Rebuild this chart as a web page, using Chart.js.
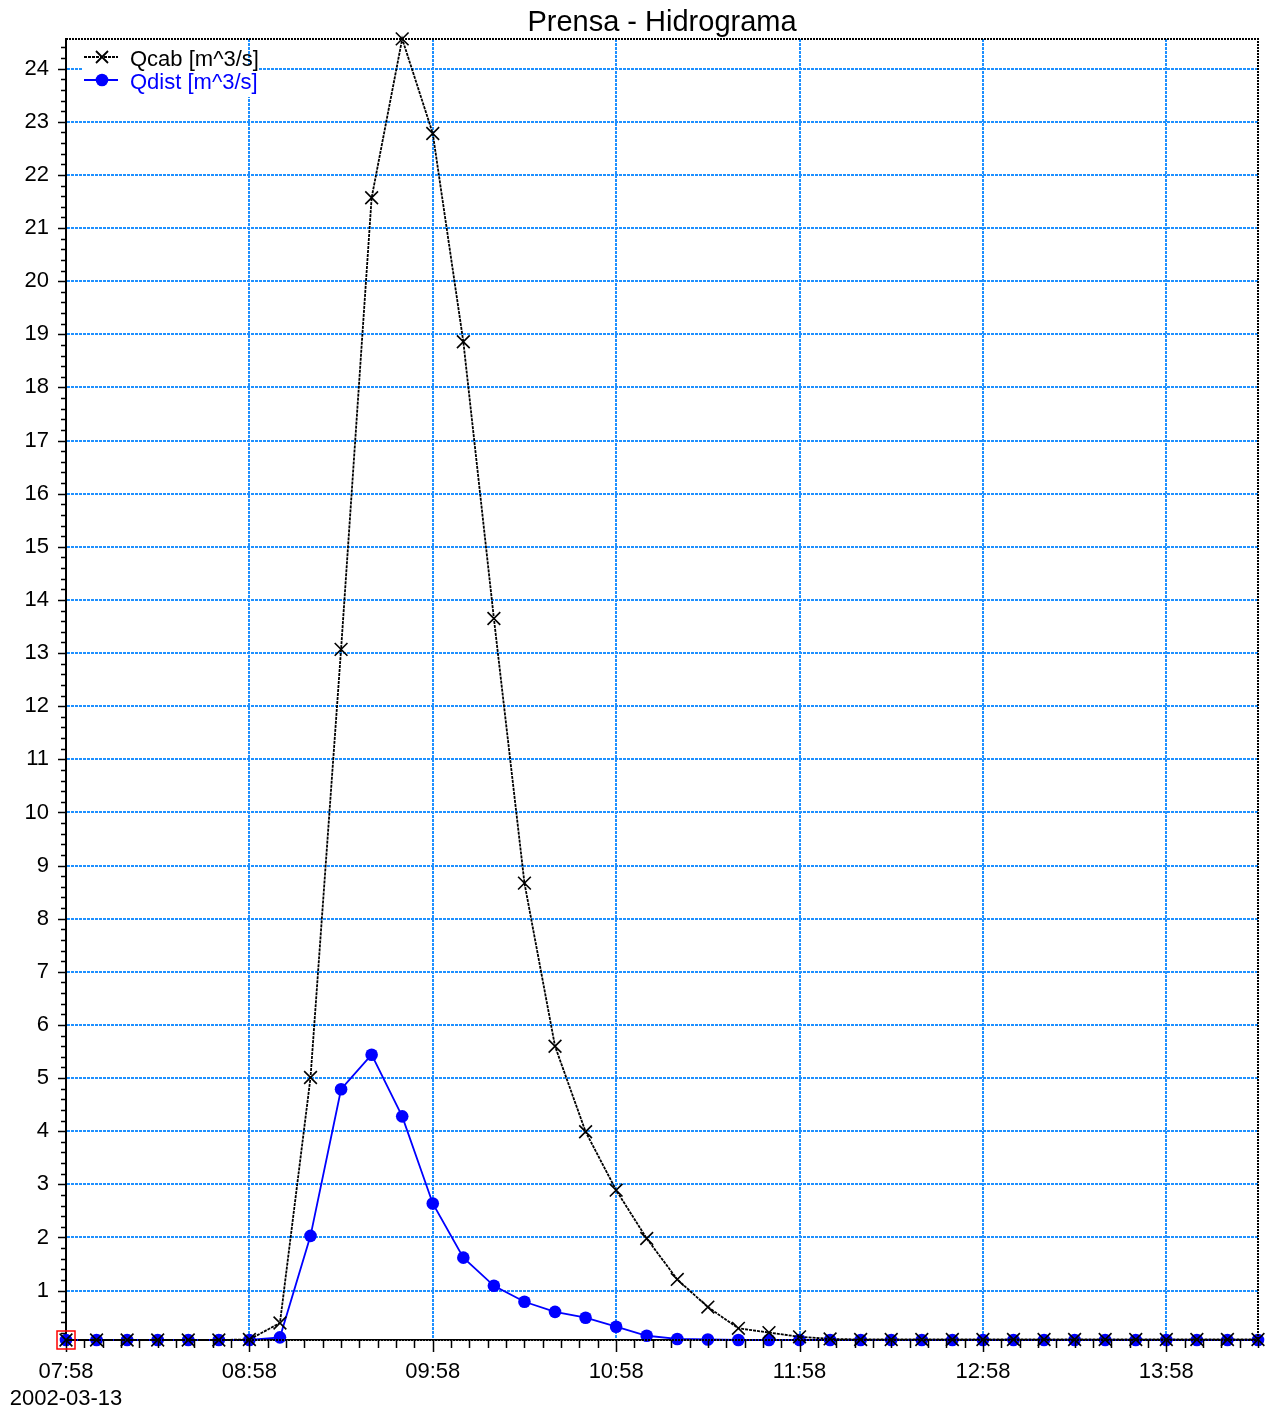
<!DOCTYPE html>
<html>
<head>
<meta charset="utf-8">
<script src="https://cdn.jsdelivr.net/npm/chart.js@4.4.1/dist/chart.umd.min.js"></script>
<style>
  html, body { margin: 0; padding: 0; background: #fff; }
  #wrap { width: 1271px; height: 1411px; }
</style>
</head>
<body>
<div id="wrap"><canvas id="myChart-hidro" width="1271" height="1411"></canvas></div>
<script>
// datos del hidrograma (cada 10 min)
const times = ["07:58","08:08","08:18","08:28","08:38","08:48","08:58","09:08","09:18","09:28",
               "09:38","09:48","09:58","10:08","10:18","10:28","10:38","10:48","10:58","11:08",
               "11:18","11:28","11:38","11:48","11:58","12:08","12:18","12:28","12:38","12:48",
               "12:58","13:08","13:18","13:28","13:38","13:48","13:58","14:08","14:18","14:28"];
const qcab = [0.07,0.07,0.07,0.07,0.07,0.07,0.08,0.39,5.01,13.07,
              21.57,24.56,22.78,18.86,13.65,8.67,5.60,3.99,2.89,1.98,
              1.21,0.69,0.29,0.21,0.13,0.09,0.08,0.08,0.08,0.08,
              0.08,0.08,0.08,0.08,0.08,0.08,0.08,0.08,0.08,0.08];
const qdist = [0.07,0.07,0.07,0.07,0.07,0.07,0.07,0.12,2.03,4.79,
               5.44,4.28,2.64,1.62,1.09,0.79,0.60,0.49,0.32,0.15,
               0.09,0.08,0.07,0.07,0.07,0.07,0.07,0.07,0.07,0.07,
               0.07,0.07,0.07,0.07,0.07,0.07,0.07,0.07,0.07,0.07];
const xTickLabels = ["07:58","08:58","09:58","10:58","11:58","12:58","13:58"];
const dateLabel = "2002-03-13";
const seriesNames = ["Qcab [m^3/s]", "Qdist [m^3/s]"];

const FONT = "'Liberation Sans', Arial, sans-serif";
const GRID_BLUE = "#1e90ff";

function toMin(t){
    const p = t.split(":");
    return (+p[0]) * 60 + (+p[1]);
}
const t0 = toMin(times[0]);
const xMax = toMin(times[times.length - 1]) - t0;

function pts(arr){
    return arr.map((v, i) => ({x: toMin(times[i]) - t0, y: v}));
}

const isInt = v => Math.abs(v - Math.round(v)) < 1e-6;

// marcas de los ejes, leyenda y marco
const extras = {
    id: "extras",
    afterDraw(chart){
        const c = chart.ctx;
        const a = chart.chartArea;
        const xs = chart.scales.x, ys = chart.scales.y;
        c.save();
        c.strokeStyle = "#000";
        c.lineWidth = 1.5;
        c.setLineDash([]);
        c.beginPath();
        xs.ticks.forEach(t => {
            const px = Math.round(xs.getPixelForValue(t.value)) + 0.5;
            const len = t.value % 60 === 0 ? 12 : 8;
            c.moveTo(px, a.bottom);
            c.lineTo(px, a.bottom + len);
        });
        ys.ticks.forEach(t => {
            const py = Math.round(ys.getPixelForValue(t.value)) + 0.5;
            const len = isInt(t.value) ? 8 : 5;
            c.moveTo(a.left, py);
            c.lineTo(a.left - len, py);
        });
        c.stroke();

        // marco superior y derecho punteado
        c.setLineDash([2, 1]);
        c.lineWidth = 2;
        c.beginPath();
        c.moveTo(a.left, a.top);
        c.lineTo(a.right, a.top);
        c.lineTo(a.right, a.bottom);
        c.moveTo(a.left, a.bottom);
        c.lineTo(a.right, a.bottom);
        c.stroke();
        c.setLineDash([]);

        // leyenda
        c.fillStyle = "#fff";
        c.fillRect(83, 65, 175, 32);
        const rows = [
            {name: seriesNames[0], color: "#000", y: 57, dash: [3, 1]},
            {name: seriesNames[1], color: "#0000ff", y: 80, dash: []}
        ];
        rows.forEach((r, i) => {
            c.strokeStyle = r.color;
            c.lineWidth = 1.8;
            c.setLineDash(r.dash);
            c.beginPath();
            c.moveTo(84, r.y);
            c.lineTo(118, r.y);
            c.stroke();
            c.setLineDash([]);
            if (i === 0) {
                c.beginPath();
                c.moveTo(96, r.y - 6); c.lineTo(108, r.y + 6);
                c.moveTo(108, r.y - 6); c.lineTo(96, r.y + 6);
                c.stroke();
            } else {
                c.fillStyle = r.color;
                c.beginPath();
                c.arc(102, r.y, 6.3, 0, Math.PI * 2);
                c.fill();
            }
            c.fillStyle = r.color;
            c.font = "22px " + FONT;
            c.textBaseline = "alphabetic";
            c.textAlign = "left";
            c.fillText(r.name, 130, r.y + 9);
        });

        // punto seleccionado
        const sx = xs.getPixelForValue(0), sy = ys.getPixelForValue(qdist[0]);
        c.strokeStyle = "#ff0000";
        c.lineWidth = 1.5;
        c.strokeRect(sx - 9, sy - 9, 18, 18);
        c.restore();
    }
};

function grafico_hidrograma(){
    const ctx = document.getElementById("myChart-hidro");
    new Chart(ctx, {
        type: "line",
        data: {
            datasets: [
                {
                    label: seriesNames[0],
                    data: pts(qcab),
                    borderColor: "#000",
                    backgroundColor: "#000",
                    borderWidth: 1.8,
                    borderDash: [3, 1],
                    pointStyle: "crossRot",
                    pointRadius: 9,
                    pointBorderWidth: 1.6,
                    pointBorderColor: "#000",
                    tension: 0,
                    clip: false,
                },
                {
                    label: seriesNames[1],
                    data: pts(qdist),
                    borderColor: "#0000ff",
                    backgroundColor: "#0000ff",
                    borderWidth: 1.8,
                    pointStyle: "circle",
                    pointRadius: 6.3,
                    pointBorderWidth: 0,
                    tension: 0,
                    clip: false,
                },
            ],
        },
        options: {
            responsive: false,
            animation: false,
            layout: { padding: { left: 0, right: 13, top: 0, bottom: 0 } },
            plugins: {
                legend: { display: false },
                tooltip: { enabled: false },
                title: {
                    display: true,
                    fullSize: false,
                    text: "Prensa - Hidrograma",
                    color: "#000",
                    font: { family: FONT, size: 29, weight: "normal", lineHeight: 1.1 },
                    padding: { top: 7, bottom: 0 },
                },
            },
            scales: {
                x: {
                    type: "linear",
                    min: 0,
                    max: xMax,
                    afterFit: s => { s.height = 71; },
                    ticks: {
                        stepSize: 6,
                        autoSkip: false,
                        maxRotation: 0,
                        padding: 7,
                        color: "#000",
                        font: { family: FONT, size: 22 },
                        callback: v => {
                            if (v % 60 !== 0) return "";
                            const lbl = xTickLabels[v / 60];
                            return v === 0 ? [lbl, dateLabel] : lbl;
                        },
                    },
                    grid: {
                        color: c => (c.tick && c.tick.value % 60 === 0 && c.tick.value > 0) ? GRID_BLUE : "rgba(0,0,0,0)",
                        lineWidth: 2,
                        tickLength: 12,
                        tickColor: "rgba(0,0,0,0)",
                    },
                    border: { color: "#000", width: 1.5, dash: [3, 1] },
                },
                y: {
                    type: "linear",
                    min: 0.07,
                    max: 24.56,
                    afterFit: s => { s.width = 66; },
                    ticks: {
                        stepSize: 0.2,
                        includeBounds: false,
                        autoSkip: false,
                        padding: 9,
                        color: "#000",
                        font: { family: FONT, size: 22 },
                        callback: v => isInt(v) ? String(Math.round(v)) : "",
                    },
                    grid: {
                        color: c => (c.tick && isInt(c.tick.value)) ? GRID_BLUE : "rgba(0,0,0,0)",
                        lineWidth: 2,
                        tickLength: 8,
                        tickColor: "rgba(0,0,0,0)",
                    },
                    border: { color: "#000", width: 2, dash: [3, 1] },
                },
            },
        },
        plugins: [extras],
    });
}
grafico_hidrograma()
</script>
</body>
</html>
